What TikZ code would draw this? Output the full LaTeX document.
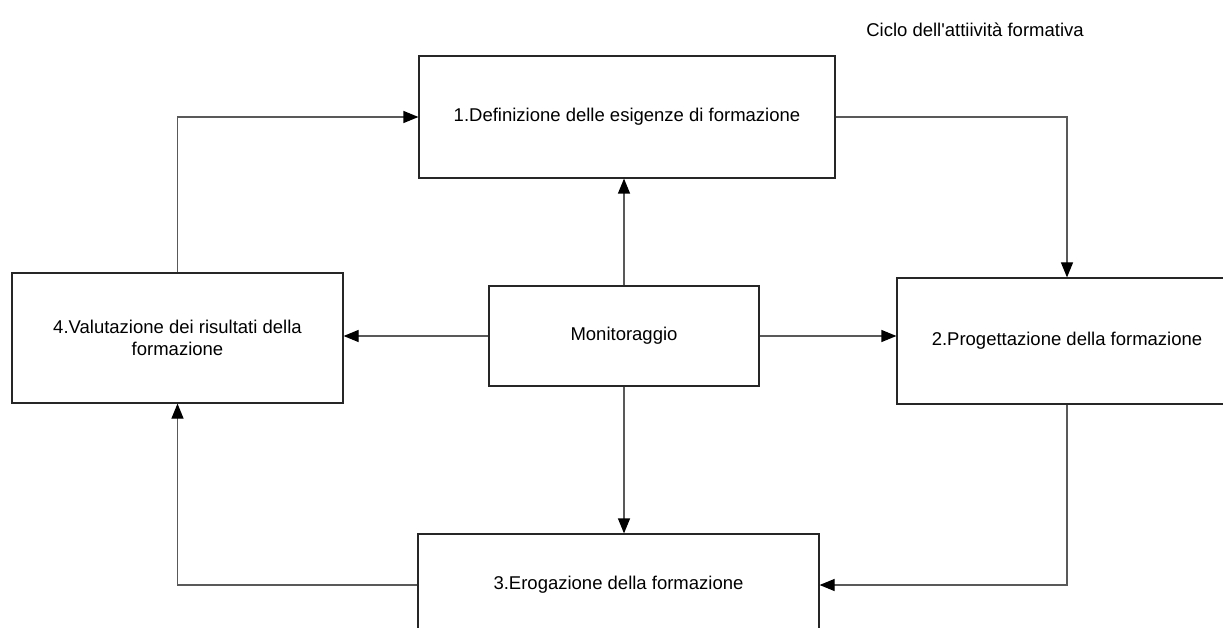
\documentclass[tikz,border=0pt]{standalone}
\usepackage{fontspec}
\setmainfont{Liberation Sans}
\usetikzlibrary{arrows.meta}
\begin{document}
\begin{tikzpicture}[x=1pt,y=-1pt,
  box/.style={draw=black!85,line width=1.2pt,fill=white,inner sep=0pt,align=center,
    font=\fontsize{18.5}{22}\selectfont},
  conn/.style={draw=black!65,line width=1.2pt},
  arr/.style={conn,-{Triangle[length=15pt,width=12pt,color=black]}},
  lbl/.style={font=\fontsize{18.5}{22}\selectfont,inner sep=0pt}]
\useasboundingbox (0,0) rectangle (1223,628);
\clip (0,0) rectangle (1223,628);
\node[lbl] (title) at (975,30) {Ciclo dell\textquotesingle attiivit\`a formativa};
\node[box,minimum width=416pt,minimum height=122pt] (b1) at (627,117) {1.Definizione delle esigenze di formazione};
\node[box,minimum width=340pt,minimum height=126pt] (b2) at (1067,341) {2.Progettazione della formazione};
\node[box,minimum width=401pt,minimum height=102pt] (b3) at (618.5,585) {3.Erogazione della formazione};
\node[box,minimum width=331pt,minimum height=130pt] (b4) at (177.5,338) {4.Valutazione dei risultati della\\formazione};
\node[box,minimum width=270pt,minimum height=100pt] (mon) at (624,336) {Monitoraggio};
\draw[arr] (b4.north) |- (b1.west);
\draw[arr] (b1.east) -| (b2.north);
\draw[arr] (b2.south) |- (b3.east);
\draw[arr] (b3.west) -| (b4.south);
\draw[arr] (mon.north) -- (mon.north |- b1.south);
\draw[arr] (mon.south) -- (mon.south |- b3.north);
\draw[arr] (mon.west) -- (mon.west -| b4.east);
\draw[arr] (mon.east) -- (mon.east -| b2.west);
\end{tikzpicture}
\end{document}
